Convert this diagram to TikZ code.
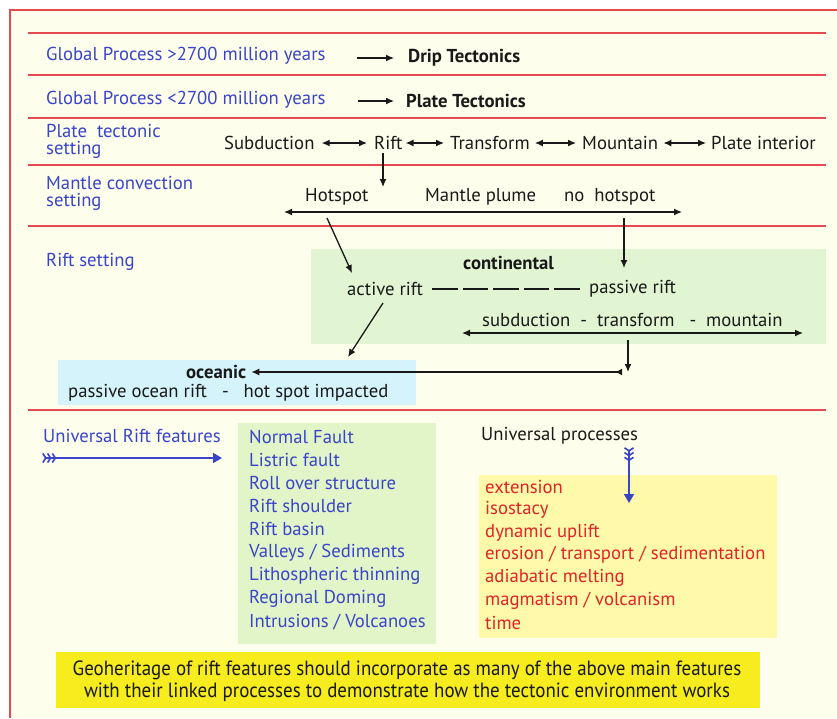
\documentclass[tikz,border=0pt]{standalone}
\usepackage{fontspec}
\setmainfont{PT Sans}
\newfontfamily\condfont[FakeStretch=0.92]{PT Sans}
\usetikzlibrary{arrows.meta}

\definecolor{paper}{RGB}{253,254,236}
\definecolor{rulered}{RGB}{232,72,80}
\definecolor{headblue}{RGB}{58,68,200}
\definecolor{procred}{RGB}{225,35,40}
\definecolor{contgreen}{RGB}{226,245,210}
\definecolor{oceanblue}{RGB}{213,243,250}
\definecolor{featgreen}{RGB}{226,245,200}
\definecolor{procyellow}{RGB}{255,250,170}
\definecolor{noteyellow}{RGB}{247,237,30}
\definecolor{ink}{RGB}{25,25,25}

\tikzset{
  base/.style={inner sep=0pt, anchor=west, font=\fontsize{18.7}{18.7}\selectfont},
  heading/.style={base, text=headblue, align=left, font=\fontsize{18.7}{17}\selectfont},
  term/.style={base, text=ink},
  bterm/.style={base, text=ink, font=\fontsize{18.7}{18.7}\selectfont\bfseries},
  feature/.style={base, text=headblue},
  process/.style={base, text=procred},
  arr/.style={draw=ink, line width=1.3pt, -{Latex[length=8pt,width=7pt]}},
  darr/.style={draw=ink, line width=1.3pt, {Latex[length=8pt,width=7pt]}-{Latex[length=8pt,width=7pt]}},
  rule/.style={draw=rulered, line width=1.6pt},
  featherarr/.style={draw=headblue, line width=1.6pt,
    {Straight Barb[reversed,length=3pt,width=9pt]Straight Barb[reversed,length=3pt,width=9pt]Straight Barb[reversed,length=3pt,width=9pt]}-{Triangle[length=9pt,width=10pt]}},
}

\begin{document}
\begin{tikzpicture}[x=1pt,y=-1pt]
\useasboundingbox (0,0) rectangle (837,718);
\fill[white] (0,0) rectangle (837,718);
\fill[paper] (10,10) rectangle (837,718);
\draw[rulered, line width=1.5pt] (837,10) -- (10,10) -- (10,718);

% section rules
\foreach \yy in {33,75,118,165,226,410}
  \draw[rule] (28,\yy) -- (826,\yy);

% tinted panels
\fill[contgreen]  (311,249) rectangle (826,344);
\fill[oceanblue]  (58,360)  rectangle (416,405);
\fill[featgreen]  (238,423) rectangle (436,644);
\fill[procyellow] (479,475) rectangle (777,638);
\fill[noteyellow] (56,652)  rectangle (760,708);

% global processes
\node[heading] (gp1) at (46,56) {Global Process >2700 million years};
\node[bterm] (drip) at (408,58) {Drip Tectonics};
\draw[arr] ([xshift=-51]drip.west) -- ([xshift=-14]drip.west);

\node[heading] (gp2) at (46,100) {Global Process <2700 million years};
\node[bterm] (plate) at (406,101) {Plate Tectonics};
\draw[arr] ([xshift=-48]plate.west) -- ([xshift=-12]plate.west);

% plate tectonic setting
\node[heading] (pts) at (46,141) {Plate\ \ tectonic\\setting};
\node[term] (sub)   at (224,143) {Subduction};
\node[term] (rift)  at (374,143) {Rift};
\node[term] (trans) at (450,143) {Transform};
\node[term] (mount) at (582,143) {Mountain};
\node[term] (pint)  at (711,143) {Plate interior};
\draw[darr] ([xshift=7]sub.east)   -- ([xshift=-7]rift.west);
\draw[darr] ([xshift=3]rift.east)  -- ([xshift=-6]trans.west);
\draw[darr] ([xshift=5]trans.east) -- ([xshift=-6]mount.west);
\draw[darr] ([xshift=5]mount.east) -- ([xshift=-5]pint.west);

% mantle convection setting
\node[heading] (mcs) at (46,193) {Mantle convection\\setting};
\node[term] (hot)   at (305,197) {Hotspot};
\node[term] (plume) at (425,197) {Mantle plume};
\node[term] (nohot) at (564,197) {no\ \ hotspot};
\coordinate (riftdrop) at (383,187);
\draw[arr] ([yshift=-3]riftdrop |- rift.south) -- (riftdrop);
\coordinate (ml) at (284,212);
\coordinate (mr) at (682,212);
\draw[darr] (ml) -- (mr);

% rift setting
\node[heading] (rs) at (46,262) {Rift setting};
\node[bterm] (cont) at (463,263) {continental};
\node[term] (active)  at (347,289) {active rift};
\node[term] (passive) at (589,289) {passive rift};
\draw[draw=ink, line width=1.3pt, dash pattern=on 25.5pt off 5pt]
  ([xshift=9]active.east) -- ([xshift=-8]passive.west);
\node[term] (stm) at (482,320) {subduction\ \ -\ \ transform\ \ \ -\ \ mountain};
\coordinate (sl) at (462,333);
\coordinate (sr) at (803,333);
\draw[darr] (sl) -- (sr);

\coordinate (hotfoot) at (327,218);
\coordinate (activetop) at (352,273);
\draw[arr] (hotfoot) -- (activetop);
\coordinate (nohotfoot) at (624,218);
\coordinate (passivetop) at (624,268);
\draw[arr] (nohotfoot) -- (passivetop);

% oceanic
\node[bterm] (ocean) at (186,372) {oceanic};
\node[term] (porift) at (68,393) {passive ocean rift\ \ \ -\ \ \ hot spot impacted};
\coordinate (activefoot) at (383,303);
\coordinate (oceantop) at (348,357);
\draw[arr] (activefoot) -- (oceantop);
\coordinate (drop) at (628,340);
\coordinate (join) at (628,372);
\draw[arr] (drop) -- (join);
\draw[draw=ink, line width=1.3pt, {Latex[length=8pt,width=7pt]}-{Latex[length=7pt,width=7pt,reversed]}]
  ([xshift=5]ocean.east) -- (622,372);

% universal rift features
\node[heading] (urf) at (43,436) {Universal Rift features};
\coordinate (ftail) at (42,458);
\coordinate (fhead) at (222,458);
\draw[featherarr] (ftail) -- (fhead);

\foreach \txt [count=\i] in {Normal Fault, Listric fault, Roll over structure,
  Rift shoulder, Rift basin, Valleys / Sediments, Lithospheric thinning,
  Regional Doming, Intrusions / Volcanoes}
  \node[feature] (feat\i) at (249,{437+23.1*(\i-1)}) {\txt};

% universal processes
\node[term] (up) at (481,436) {Universal processes};
\coordinate (ptail) at (629,447);
\coordinate (phead) at (629,503);
\draw[featherarr] (ptail) -- (phead);

\foreach \txt [count=\i] in {extension, isostacy, dynamic uplift,
  erosion / transport / sedimentation, adiabatic melting,
  magmatism / volcanism, time}
  \node[process] (proc\i) at (485,{487+22.7*(\i-1)}) {\txt};

% closing note
\node[inner sep=0pt, align=center, text=ink, font=\condfont\fontsize{20.6}{22}\selectfont]
  (note) at (407,681) {Geoheritage of rift features should incorporate as many of the above main features\\
  with their linked processes to demonstrate how the tectonic environment works};
\end{tikzpicture}
\end{document}
